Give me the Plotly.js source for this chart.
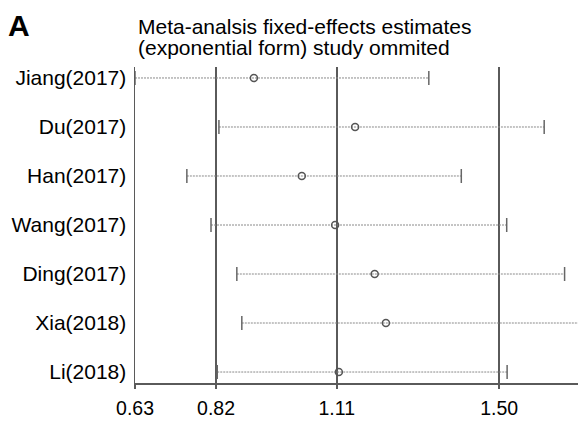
<!DOCTYPE html>
<html>
<head>
<meta charset="utf-8">
<script src="https://cdn.plot.ly/plotly-3.0.1.min.js"></script>
<style>html,body{margin:0;padding:0;background:#fff;}#chart{width:578px;height:422px;}</style>
</head>
<body>
<div id="chart"></div>
<script>
var studies = ['Jiang(2017)','Du(2017)','Han(2017)','Wang(2017)','Ding(2017)','Xia(2018)','Li(2018)'];
var estimate = [0.911, 1.154, 1.026, 1.106, 1.201, 1.228, 1.115];
var lowerCI = [0.6255, 0.827, 0.750, 0.808, 0.870, 0.882, 0.823];
var upperCI = [1.331, 1.608, 1.409, 1.518, 1.657, 1.720, 1.519];
var tickValues = [0.6255, 0.82, 1.11, 1.50];
var tickLabels = ['0.63', '0.82', '1.11', '1.50'];
var titleLines = ['Meta-analsis fixed-effects estimates', '(exponential form) study ommited'];
var panelLabel = 'A';

var FONT = 'Liberation Sans, Arial, Helvetica, sans-serif';

var lx = [], ly = [];
for (var i = 0; i < studies.length; i++) {
  lx.push(lowerCI[i], upperCI[i], null);
  ly.push(studies[i], studies[i], null);
}

var traces = [
  {
    type: 'scatter', mode: 'lines', x: lx, y: ly,
    line: {color: '#8a8a8a', width: 1, dash: '2px,1px'},
    hoverinfo: 'skip', showlegend: false
  },
  {
    type: 'scatter', mode: 'markers',
    x: lowerCI.concat(upperCI), y: studies.concat(studies),
    marker: {symbol: 'line-ns', size: 10, line: {color: '#666', width: 1.5}, color: '#666'},
    showlegend: false
  },
  {
    type: 'scatter', mode: 'markers', x: estimate, y: studies,
    marker: {symbol: 'circle-open', size: 7, color: '#555', line: {color: '#555', width: 1.5}},
    showlegend: false
  }
];

var layout = {
  width: 578, height: 422,
  margin: {l: 135, r: 0, t: 67, b: 39, pad: 0},
  paper_bgcolor: '#fff', plot_bgcolor: '#fff',
  font: {family: FONT, color: '#000'},
  showlegend: false,
  xaxis: {
    range: [0.6255, 1.6892],
    tickmode: 'array', tickvals: tickValues, ticktext: tickLabels,
    showgrid: true, gridcolor: '#5a5a5a', gridwidth: 1.5,
    zeroline: false,
    showline: true, linecolor: '#5a5a5a', linewidth: 1.5,
    ticks: 'outside', ticklen: 4, tickcolor: '#5a5a5a', tickwidth: 1.5,
    tickfont: {family: FONT, size: 19.5, color: '#000'},
    ticklabelstandoff: 3,
    fixedrange: true
  },
  yaxis: {
    type: 'category',
    categoryorder: 'array', categoryarray: studies.slice().reverse(),
    range: [-0.224, 6.224],
    showgrid: false, zeroline: false,
    showline: true, linecolor: '#5a5a5a', linewidth: 1.5,
    ticks: '',
    tickfont: {family: FONT, size: 21, color: '#000'},
    ticklabelstandoff: 3,
    fixedrange: true
  },
  annotations: [
    {text: titleLines[0], xref: 'paper', yref: 'paper', x: 0.003, y: 1.127,
     xanchor: 'left', yanchor: 'middle', showarrow: false,
     font: {family: FONT, size: 21, color: '#000'}},
    {text: titleLines[1], xref: 'paper', yref: 'paper', x: 0.003, y: 1.062,
     xanchor: 'left', yanchor: 'middle', showarrow: false,
     font: {family: FONT, size: 21, color: '#000'}},
    {text: '<b>' + panelLabel + '</b>', xref: 'paper', yref: 'paper', x: -0.292, y: 1.13,
     xanchor: 'left', yanchor: 'middle', showarrow: false,
     font: {family: FONT, size: 30, color: '#000'}}
  ]
};

Plotly.newPlot('chart', traces, layout, {displayModeBar: false, staticPlot: true});
</script>
</body>
</html>
